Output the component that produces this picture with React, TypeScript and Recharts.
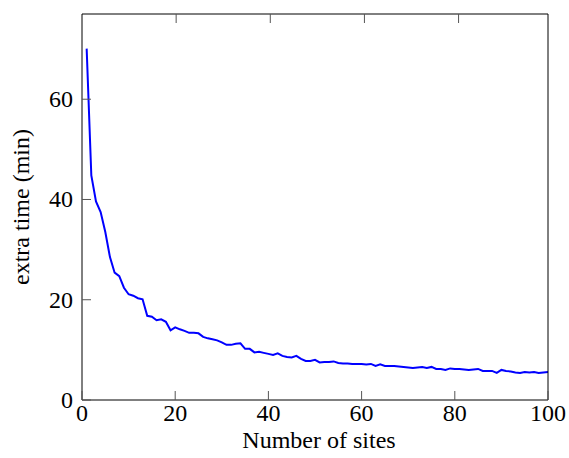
import React from "react";
import { LineChart, Line, XAxis, YAxis } from "recharts";

// extra time (min) per number of sites
const sites = Array.from({ length: 100 }, (_, i) => i + 1);
const extraTime = [
  70.1, 44.8, 39.6, 37.5, 33.5, 28.5, 25.4, 24.7, 22.4, 21.1,
  20.8, 20.3, 20.1, 16.8, 16.6, 15.9, 16.1, 15.6, 13.9, 14.5,
  14.1, 13.8, 13.4, 13.4, 13.3, 12.6, 12.3, 12.1, 11.9, 11.5,
  11.0, 11.0, 11.2, 11.3, 10.2, 10.2, 9.5, 9.6, 9.4, 9.2,
  9.0, 9.3, 8.8, 8.6, 8.5, 8.8, 8.2, 7.8, 7.8, 8.0,
  7.5, 7.6, 7.6, 7.7, 7.4, 7.3, 7.3, 7.2, 7.2, 7.2,
  7.1, 7.2, 6.8, 7.1, 6.8, 6.8, 6.8, 6.7, 6.6, 6.5,
  6.4, 6.5, 6.6, 6.4, 6.6, 6.2, 6.2, 6.0, 6.3, 6.2,
  6.2, 6.1, 6.0, 6.1, 6.2, 5.8, 5.8, 5.8, 5.4, 6.0,
  5.8, 5.7, 5.5, 5.4, 5.6, 5.5, 5.6, 5.4, 5.5, 5.6,
];
const xTicks = [0, 20, 40, 60, 80, 100];
const yTicks = [0, 20, 40, 60];
const xTicksInner = [20, 40, 60, 80];
const yTicksInner = [20, 40, 60];

const data = sites.map((s, i) => ({ sites: s, time: extraTime[i] }));

const FONT = "'Liberation Serif', 'DejaVu Serif', serif";
const FS = 24;
const TICK_LEN = 9;
const TICK_COLOR = "#555";

function BottomTick(props: any) {
  const { x, y, payload } = props;
  return (
    <g>
      <line x1={x} y1={y} x2={x} y2={y - TICK_LEN} stroke={TICK_COLOR} />
      <text x={x} y={y + 21} textAnchor="middle" fontSize={FS} fontFamily={FONT} fill="#000">
        {payload.value}
      </text>
    </g>
  );
}

function TopTick(props: any) {
  const { x, y } = props;
  return <line x1={x} y1={y} x2={x} y2={y + TICK_LEN} stroke={TICK_COLOR} />;
}

function LeftTick(props: any) {
  const { x, y, payload } = props;
  return (
    <g>
      <line x1={x} y1={y} x2={x + TICK_LEN} y2={y} stroke={TICK_COLOR} />
      <text x={x - 9} y={y + 8} textAnchor="end" fontSize={FS} fontFamily={FONT} fill="#000">
        {payload.value}
      </text>
    </g>
  );
}

function RightTick(props: any) {
  const { x, y } = props;
  return <line x1={x} y1={y} x2={x - TICK_LEN} y2={y} stroke={TICK_COLOR} />;
}

function YLabel(props: any) {
  const { x, y, height } = props.viewBox;
  const cx = x + 29;
  const cy = y + height / 2;
  return (
    <text
      x={cx}
      y={cy}
      transform={`rotate(-90 ${cx} ${cy})`}
      textAnchor="middle"
      fontSize={FS}
      fontFamily={FONT}
      fill="#000"
    >
      extra time (min)
    </text>
  );
}

function XLabel(props: any) {
  const { x, y, width } = props.viewBox;
  return (
    <text x={x + width / 2 + 4} y={y + 48} textAnchor="middle" fontSize={FS} fontFamily={FONT} fill="#000">
      Number of sites
    </text>
  );
}

export default function App() {
  return (
    <div style={{ position: "absolute", left: 0, top: 0, width: 569, height: 458 }}>
      <LineChart
        width={569}
        height={458}
        data={data}
        margin={{ top: 0, right: 0, bottom: 0, left: 0 }}
      >
        <XAxis
          xAxisId="bottom"
          dataKey="sites"
          type="number"
          domain={[0, 100]}
          ticks={xTicks}
          height={58}
          tickSize={0}
          tickMargin={0}
          tickLine={false}
          tick={<BottomTick />}
          axisLine={{ stroke: "#000" }}
          label={<XLabel />}
        />
        <XAxis
          xAxisId="top"
          orientation="top"
          type="number"
          domain={[0, 100]}
          ticks={xTicksInner}
          height={14}
          tickSize={0}
          tickMargin={0}
          tickLine={false}
          tick={<TopTick />}
          axisLine={{ stroke: "#000" }}
        />
        <YAxis
          yAxisId="left"
          type="number"
          domain={[0, 77]}
          ticks={yTicks}
          width={82}
          tickSize={0}
          tickMargin={0}
          tickLine={false}
          tick={<LeftTick />}
          axisLine={{ stroke: "#000" }}
          label={<YLabel />}
        />
        <YAxis
          yAxisId="right"
          orientation="right"
          type="number"
          domain={[0, 77]}
          ticks={yTicksInner}
          width={21}
          tickSize={0}
          tickMargin={0}
          tickLine={false}
          tick={<RightTick />}
          axisLine={{ stroke: "#000" }}
        />
        <Line
          xAxisId="bottom"
          yAxisId="left"
          type="linear"
          dataKey="time"
          stroke="#0000ff"
          strokeWidth={2}
          dot={false}
          isAnimationActive={false}
        />
      </LineChart>
    </div>
  );
}
